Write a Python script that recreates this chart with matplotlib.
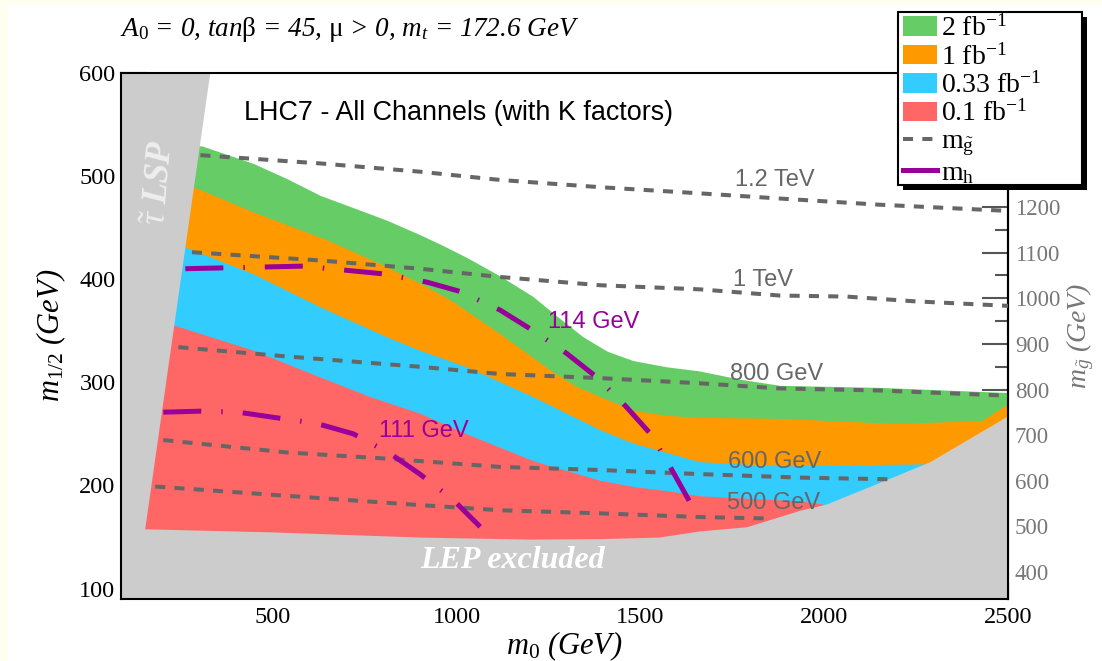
import matplotlib.pyplot as plt
from matplotlib.patches import Patch, Rectangle
from matplotlib.lines import Line2D
from matplotlib.ticker import MultipleLocator, FixedLocator

plt.rcParams['mathtext.fontset'] = 'custom'
plt.rcParams['mathtext.rm'] = 'Liberation Serif'
plt.rcParams['mathtext.it'] = 'Liberation Serif:italic'
plt.rcParams['mathtext.bf'] = 'Liberation Serif:bold'
plt.rcParams['mathtext.default'] = 'it'

# reach contours, upper edge of each band (m0, m1/2 in GeV)
green_m0 = [307, 447, 540, 629, 720, 810, 900, 960, 1027, 1118, 1208, 1280, 1344, 1410,
            1480, 1570, 1660, 1770, 1879, 2151, 2500]
green_m12 = [529, 512, 497, 481, 469, 457, 443, 433, 421, 403, 383, 362, 344, 330,
             321, 315, 311, 303, 297, 295, 290]
orange_m0 = [286, 447, 647, 810, 900, 982, 1118, 1254, 1320, 1390, 1480, 1570, 1662, 1879,
             2197, 2428, 2500]
orange_m12 = [489, 465, 438, 412, 396, 380, 347, 312, 297, 286, 273, 268, 266, 265,
              260, 263, 279]
blue_m0 = [262, 447, 629, 810, 900, 1027, 1208, 1390, 1480, 1571, 1662, 1879, 2288]
blue_m12 = [431, 405, 373, 344, 331, 315, 286, 254, 241, 232, 223, 219, 221]
red_m0 = [234, 447, 629, 765, 900, 1027, 1208, 1390, 1480, 1571, 1662, 1934, 1997]
red_m12 = [355, 331, 305, 286, 270, 250, 224, 205, 199, 195, 190, 185, 182]

# excluded regions
lep_m0 = [80, 153, 500, 900, 1200, 1390, 1550, 1662, 1789, 1934, 2006, 2178, 2287, 2387, 2478, 2510]
lep_m12 = [158, 158, 155, 150, 148, 148.5, 150, 156, 160, 176, 182, 207, 223, 244, 263, 270]
lsp_m0 = [80, 334, 153, 150, 80]
lsp_m12 = [610, 610, 158, 80, 80]

# gluino mass contours
mg1200_m0 = [303, 629, 900, 1118, 1390, 1662, 1879, 2151, 2500]
mg1200_m12 = [520, 512, 504, 496, 489, 483, 478, 472, 466]
mg1000_m0 = [280, 629, 900, 1118, 1390, 1662, 1879, 2061, 2242, 2500]
mg1000_m12 = [426, 418, 410, 402, 394, 390, 384, 383, 378.5, 374]
mg800_m0 = [243, 538, 900, 1118, 1390, 1662, 1879, 2151, 2500]
mg800_m12 = [334, 325, 315, 308, 304, 299, 294, 292, 287]
mg600_m0 = [202, 538, 810, 1118, 1390, 1662, 1934, 2180]
mg600_m12 = [244, 232, 226, 218, 215, 211, 207.6, 206]
mg500_m0 = [180, 538, 900, 1118, 1390, 1662, 1852]
mg500_m12 = [199, 190, 181, 176, 173, 169.4, 168]

# light higgs mass contours
mh114_m0 = [262, 583, 801, 919, 1009, 1118, 1208, 1299, 1381, 1462, 1530, 1589, 1639]
mh114_m12 = [410, 412.5, 405, 397, 388, 370, 350, 328, 305, 276, 249, 213, 181]
mh111_m0 = [202, 303, 406, 502, 620, 719, 819, 900, 991, 1064]
mh111_m12 = [271, 272, 271, 266, 260, 250, 231, 211, 186, 160]

band_labels = ['2 fb$^{\\mathrm{-1}}$', '1 fb$^{\\mathrm{-1}}$',
               '0.33 fb$^{\\mathrm{-1}}$', '0.1 fb$^{\\mathrm{-1}}$']
band_colors = ['#66cc66', '#ff9900', '#33ccff', '#ff6666']
gluino_ticks = [400, 500, 600, 700, 800, 900, 1000, 1100, 1200]

GRAY = '#666666'
PURPLE = '#990099'
SERIF = 'Liberation Serif'
SANS = 'Liberation Sans'
W, H = 1102, 661

fig = plt.figure(figsize=(W / 100, H / 100), dpi=100, facecolor='#fffff0')
fig.patches.append(Rectangle((8 / W, 0), 1, 1 - 5 / H, transform=fig.transFigure,
                             facecolor='white', edgecolor='none', zorder=-5))
ax = fig.add_axes([121 / W, 1 - 599 / H, 887 / W, 526.4 / H])

for xs, ys, c in [(green_m0, green_m12, band_colors[0]),
                  (orange_m0, orange_m12, band_colors[1]),
                  (blue_m0, blue_m12, band_colors[2]),
                  (red_m0, red_m12, band_colors[3])]:
    ax.fill_between([80] + xs, 80, [ys[0]] + ys, color=c, lw=0, zorder=1)

ax.fill_between(lep_m0, 80, lep_m12, color='#cccccc', lw=0, zorder=2)
ax.fill(lsp_m0, lsp_m12, color='#cccccc', lw=0, zorder=2)

for xs, ys in [(mg1200_m0, mg1200_m12), (mg1000_m0, mg1000_m12), (mg800_m0, mg800_m12),
               (mg600_m0, mg600_m12), (mg500_m0, mg500_m12)]:
    ax.plot(xs, ys, color=GRAY, lw=2.9, dashes=(2.5, 2.3), zorder=3)

for xs, ys in [(mh114_m0, mh114_m12), (mh111_m0, mh111_m12)]:
    ax.plot(xs, ys, color=PURPLE, lw=3.6, dashes=(7.6, 4, 0.3, 4),
            solid_capstyle='butt', dash_capstyle='butt', zorder=4)

# contour labels
for txt, x, y in [('1.2 TeV', 1866, 495.6), ('1 TeV', 1833, 399), ('800 GeV', 1871, 308),
                  ('600 GeV', 1866, 223), ('500 GeV', 1862, 183)]:
    ax.text(x, y, txt, color=GRAY, fontsize=17, family=SANS, ha='center', va='center', zorder=5)
ax.text(1372, 358, '114 GeV', color=PURPLE, fontsize=17, family=SANS, ha='center', va='center', zorder=5)
ax.text(911, 252.5, '111 GeV', color=PURPLE, fontsize=17, family=SANS, ha='center', va='center', zorder=5)

ax.text(0.381, 0.924, 'LHC7 - All Channels (with K factors)', transform=ax.transAxes,
        fontsize=19.4, family=SANS, ha='center', va='center', zorder=5)
ax.text(0.441, 0.074, 'LEP excluded', transform=ax.transAxes, color='white',
        fontsize=23, family=SERIF, weight='bold', style='italic', ha='center', va='center', zorder=5)
ax.text(0.044, 0.79, r'$\tilde{\tau}$ LSP', transform=ax.transAxes, color='#eeeeee',
        fontsize=25, family=SERIF, weight='bold', style='italic', rotation=85,
        ha='center', va='center', zorder=5)

ax.set_xlim(87, 2500)
ax.set_ylim(90, 600)
ax.xaxis.set_major_locator(MultipleLocator(500))
ax.xaxis.set_minor_locator(MultipleLocator(250))
ax.yaxis.set_major_locator(MultipleLocator(100))
ax.yaxis.set_minor_locator(MultipleLocator(50))
ax.tick_params(axis='both', which='both', direction='in', right=False, top=False,
               labelsize=17.5, width=1.5)
ax.tick_params(axis='y', which='major', length=19, pad=4)
ax.tick_params(axis='y', which='minor', length=9.5)
ax.tick_params(axis='x', which='major', length=11.5, pad=6)
ax.tick_params(axis='x', which='minor', length=6)
for lab in ax.get_xticklabels() + ax.get_yticklabels():
    lab.set_family(SERIF)
for s in ax.spines.values():
    s.set_linewidth(1.5)

ax.set_xlabel(r'$m_0$ (GeV)', fontsize=22, family=SERIF, style='italic')
ax.set_ylabel(r'$m_{1/2}$ (GeV)', fontsize=22, family=SERIF, style='italic', labelpad=8)
ax.xaxis.set_label_coords(0.5, -0.058)


def m12_to_mg(m):
    return 2.262 * m + 137.4


def mg_to_m12(g):
    return (g - 137.4) / 2.262


sec = ax.secondary_yaxis('right', functions=(m12_to_mg, mg_to_m12))
sec.yaxis.set_major_locator(FixedLocator(gluino_ticks))
sec.yaxis.set_minor_locator(FixedLocator([t + 50 for t in gluino_ticks] + [350]))
sec.tick_params(which='both', direction='in', color='#555555', labelcolor='#777777',
                labelsize=16.5, width=1.5, pad=5)
sec.tick_params(which='major', length=19)
sec.tick_params(which='minor', length=9.5)
for lab in sec.get_yticklabels():
    lab.set_family(SERIF)
sec.spines['right'].set_linewidth(1.5)
sec.set_ylabel(r'$m_{\tilde{g}}$ (GeV)', fontsize=20, family=SERIF, style='italic',
               color='#777777', rotation=90, labelpad=3)

fig.text(120 / W, 1 - 30 / H, r'$A_0$ = 0, $tan\mathrm{\beta}$ = 45, $\mathrm{\mu}$ > 0, $m_t$ = 172.6 GeV',
         fontsize=19.5, family=SERIF, style='italic', ha='left', va='center')

# legend box with a hard black shadow, drawn over the axes
fig.patches.append(Rectangle((903 / W, 1 - 190 / H), 184 / W, 173 / H, transform=fig.transFigure,
                             facecolor='black', edgecolor='none', zorder=6))
fig.patches.append(Rectangle((898 / W, 1 - 185 / H), 184 / W, 173 / H, transform=fig.transFigure,
                             facecolor='white', edgecolor='black', lw=1.5, zorder=7))

handles = [Patch(facecolor=c, edgecolor='none') for c in band_colors]
handles += [Line2D([], [], color=GRAY, lw=2.9, dashes=(2.5, 2.3)),
            Line2D([], [], color=PURPLE, lw=3.6)]
labels = band_labels + [r'm$_{\mathrm{\tilde{g}}}$', r'm$_{\mathrm{h}}$']
leg = fig.legend(handles, labels, loc='upper left', bbox_to_anchor=(899 / W, 1 - 11 / H),
                 borderaxespad=0, borderpad=0.15, prop={'family': SERIF, 'size': 20},
                 labelspacing=0.07, handlelength=1.2, handleheight=0.7, handletextpad=0.15,
                 frameon=False)
leg.set_zorder(8)

fig.savefig('out.png', dpi=100)
